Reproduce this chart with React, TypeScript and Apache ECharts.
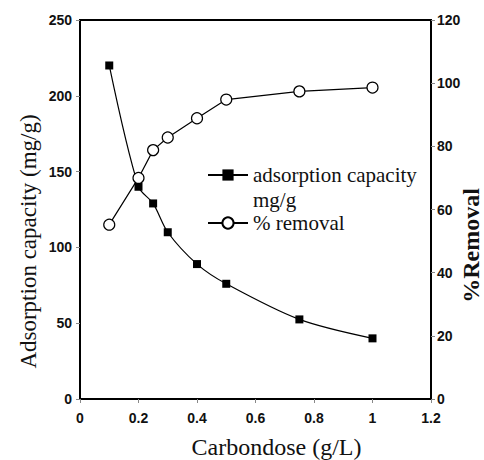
import React, { useEffect, useRef } from "react";
import * as echarts from "echarts";

const doses = [0.1, 0.2, 0.25, 0.3, 0.4, 0.5, 0.75, 1.0];
const capacity = [220, 140, 129, 110, 89, 76, 52.5, 40];
const removal = [55.2, 70.0, 78.8, 82.8, 88.9, 94.8, 97.4, 98.6];

const xTicks = { min: 0, max: 1.2, interval: 0.2 };
const yLeftTicks = { min: 0, max: 250, interval: 50 };
const yRightTicks = { min: 0, max: 120, interval: 20 };

const capName = "adsorption capacity mg/g";
const capLegendLines = ["\u00a0", "adsorption capacity", "mg/g"];
const remName = "% removal";

export default function App() {
  const ref = useRef<HTMLDivElement>(null);
  useEffect(() => {
    if (!ref.current) return;
    const chart = echarts.init(ref.current, null, { renderer: "svg" });
    const tickLabel = {
      fontFamily: "Liberation Sans",
      fontWeight: "bold" as const,
      fontSize: 14,
      color: "#111",
    };
    const axisLine = { show: true, lineStyle: { color: "#000", width: 2 } };
    const axisTick = { show: true, length: 4, lineStyle: { color: "#888", width: 1 } };
    chart.setOption({
      animation: false,
      backgroundColor: "#fff",
      grid: {
        left: 80,
        right: 53,
        top: 20,
        bottom: 61,
        show: true,
        borderColor: "#000",
        borderWidth: 2,
        outerBoundsMode: "none",
        containLabel: false,
      },
      legend: {
        orient: "vertical",
        left: 207,
        top: 137.5,
        padding: 0,
        itemWidth: 40,
        itemHeight: 14,
        itemGap: -2,
        formatter: (name: string) =>
          name === capName ? capLegendLines.join("\n") : name,
        textStyle: {
          fontFamily: "Liberation Serif",
          fontSize: 21,
          lineHeight: 25,
          color: "#111",
        },
        data: [capName, remName],
      },
      xAxis: {
        type: "value",
        ...xTicks,
        name: "Carbondose (g/L)",
        nameLocation: "middle",
        nameGap: 36,
        nameMoveOverlap: false,
        nameTextStyle: {
          fontFamily: "Liberation Serif",
          fontSize: 24,
          color: "#111",
          padding: [0, 0, 0, 42],
        },
        axisLine,
        axisTick,
        axisLabel: { ...tickLabel, margin: 12 },
        splitLine: { show: false },
      },
      yAxis: [
        {
          type: "value",
          position: "left",
          ...yLeftTicks,
          name: "Adsorption capacity (mg/g)",
          nameLocation: "middle",
          nameRotate: 90,
          nameGap: 40,
          nameMoveOverlap: false,
          nameTextStyle: {
            fontFamily: "Liberation Serif",
            fontSize: 23,
            color: "#111",
            padding: [0, 64, 0, 0],
          },
          axisLine,
          axisTick,
          axisLabel: { ...tickLabel, margin: 8 },
          splitLine: { show: false },
        },
        {
          type: "value",
          position: "right",
          ...yRightTicks,
          name: "%Removal",
          nameLocation: "middle",
          nameRotate: 90,
          nameGap: 28,
          nameMoveOverlap: false,
          nameTextStyle: {
            fontFamily: "Liberation Serif",
            fontWeight: "bold",
            fontSize: 24,
            color: "#111",
            padding: [0, 72, 0, 0],
          },
          axisLine,
          axisTick,
          axisLabel: { ...tickLabel, margin: 6 },
          splitLine: { show: false },
        },
      ],
      series: [
        {
          name: capName,
          type: "line",
          yAxisIndex: 0,
          data: doses.map((d, i) => [d, capacity[i]]),
          symbol: "rect",
          symbolSize: 8,
          smooth: 0.3,
          lineStyle: { color: "#000", width: 1.2 },
          itemStyle: { color: "#000" },
        },
        {
          name: remName,
          type: "line",
          yAxisIndex: 1,
          data: doses.map((d, i) => [d, removal[i]]),
          symbol: "circle",
          symbolSize: 11,
          lineStyle: { color: "#000", width: 1.2 },
          itemStyle: { color: "#fff", borderColor: "#000", borderWidth: 1.2 },
        },
      ],
    });
    return () => chart.dispose();
  }, []);
  return (
    <div
      ref={ref}
      style={{ position: "fixed", left: 0, top: 0, width: 484, height: 460 }}
    />
  );
}
